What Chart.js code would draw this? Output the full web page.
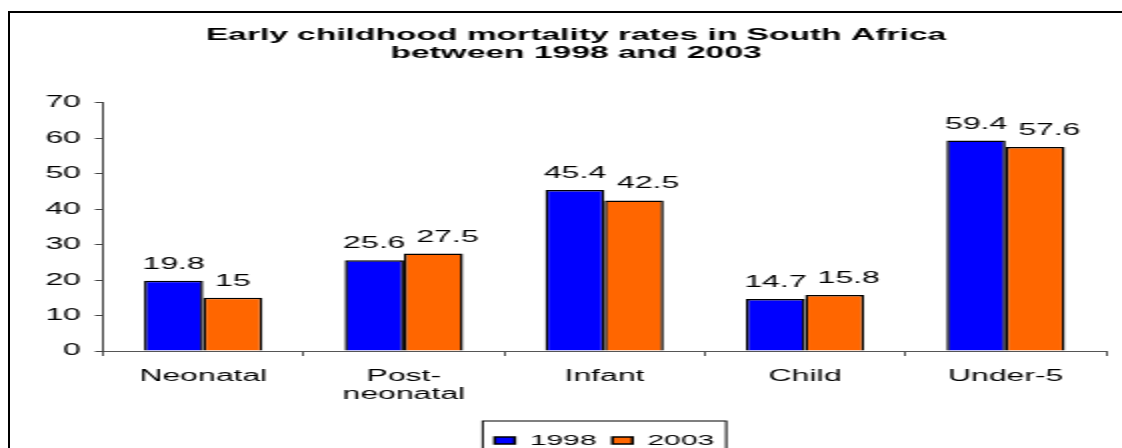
<!DOCTYPE html>
<html>
<head>
<meta charset="utf-8">
<script src="https://cdn.jsdelivr.net/npm/chart.js@4"></script>
<style>
  body { margin: 0; overflow: hidden; background: #fff; width: 1122px; height: 448px; position: relative; }
  #marco { position: absolute; left: 8px; top: 11px; width: 1200px; height: 500px; border-left: 2px solid #000; border-top: 2px solid #000; box-sizing: border-box; }
  #envoltura { position: absolute; left: 8px; top: 11px; transform: scaleX(2); transform-origin: 0 0; }
</style>
</head>
<body>
<div id="marco"></div>
<div id="envoltura">
  <canvas id="grafica" width="568" height="450"></canvas>
</div>
<script>
const categorias = ["Neonatal", ["Post-", "neonatal"], "Infant", "Child", "Under-5"];
const valores1998 = [19.8, 25.6, 45.4, 14.7, 59.4];
const valores2003 = [15, 27.5, 42.5, 15.8, 57.6];
const etiquetasY = [0, 10, 20, 30, 40, 50, 60, 70];

Chart.defaults.font.family = "'Liberation Sans', Arial, sans-serif";
Chart.defaults.color = "#000";

// etiquetas de valor encima de cada barra; la segunda se corre solo si se encima con la primera
const etiquetasBarras = {
  id: "etiquetasBarras",
  afterDatasetsDraw(chart) {
    const ctx = chart.ctx;
    ctx.save();
    ctx.font = "16px 'Liberation Sans', Arial, sans-serif";
    ctx.fillStyle = "#000";
    ctx.textAlign = "center";
    ctx.textBaseline = "alphabetic";
    const barras1 = chart.getDatasetMeta(0).data;
    const barras2 = chart.getDatasetMeta(1).data;
    barras1.forEach((b1, j) => {
      const b2 = barras2[j];
      const t1 = String(chart.data.datasets[0].data[j]);
      const t2 = String(chart.data.datasets[1].data[j]);
      const w1 = ctx.measureText(t1).width;
      const w2 = ctx.measureText(t2).width;
      ctx.fillText(t1, b1.x, b1.y - 12);
      const finPrimera = b1.x + w1 / 2;
      const inicioSegunda = b2.x - w2 / 2;
      let corrimiento = 0;
      if (inicioSegunda < finPrimera) corrimiento = finPrimera + 5.5 - inicioSegunda;
      ctx.fillText(t2, b2.x + corrimiento, b2.y - 12);
    });
    ctx.restore();
  }
};

// recuadro alrededor de la leyenda
const marcoLeyenda = {
  id: "marcoLeyenda",
  afterDraw(chart) {
    const cajas = chart.legend.legendHitBoxes;
    if (!cajas || !cajas.length) return;
    const izq = Math.min(...cajas.map(c => c.left)) - 6;
    const der = Math.max(...cajas.map(c => c.left + c.width)) + 6;
    const arriba = cajas[0].top - 12;
    const abajo = cajas[0].top + cajas[0].height + 6;
    const ctx = chart.ctx;
    ctx.save();
    ctx.strokeStyle = "#000";
    ctx.lineWidth = 1;
    ctx.strokeRect(izq, arriba, der - izq, abajo - arriba);
    ctx.restore();
  }
};

new Chart(document.getElementById("grafica"), {
  type: "bar",
  data: {
    labels: categorias,
    datasets: [
      {
        label: "1998",
        data: valores1998,
        backgroundColor: "#0000FF",
        borderColor: "#000",
        borderWidth: 1.5,
        categoryPercentage: 0.59,
        barPercentage: 1
      },
      {
        label: "2003",
        data: valores2003,
        backgroundColor: "#FF6600",
        borderColor: "#000",
        borderWidth: 1.5,
        categoryPercentage: 0.59,
        barPercentage: 1
      }
    ]
  },
  options: {
    responsive: false,
    animation: false,
    layout: { padding: { top: 0, right: 0, bottom: 3, left: 0 } },
    plugins: {
      title: {
        display: true,
        text: ["Early childhood mortality rates in South Africa", "between 1998 and 2003"],
        color: "#000",
        font: { size: 16.8, weight: "bold", lineHeight: 1.07 },
        padding: { top: 15, bottom: 41 }
      },
      legend: {
        position: "bottom",
        fullSize: false,
        labels: {
          boxWidth: 10,
          boxHeight: 7,
          padding: 8,
          color: "#000",
          font: { size: 15 }
        }
      },
      tooltip: { enabled: false }
    },
    scales: {
      x: {
        grid: { drawOnChartArea: false, tickLength: 5, color: "#555", offset: true },
        border: { color: "#555", width: 1 },
        ticks: { padding: 12, color: "#000", font: { size: 16, lineHeight: 1.125 }, maxRotation: 0 },
        afterFit: (escala) => { escala.height = 74; }
      },
      y: {
        min: 0,
        max: 70,
        afterBuildTicks: (escala) => { escala.ticks = etiquetasY.map(v => ({ value: v })); },
        grid: { drawOnChartArea: false, tickLength: 4, color: "#444" },
        border: { color: "#444", width: 1 },
        ticks: { padding: 7, color: "#000", font: { size: 16 } },
        afterFit: (escala) => { escala.width = 47.5; }
      },
      // margen derecho vacío, para que el título quede centrado en todo el recuadro
      margen: {
        type: "linear",
        position: "right",
        grid: { display: false },
        border: { display: false },
        ticks: { display: false },
        afterFit: (escala) => { escala.width = 19; }
      }
    }
  },
  plugins: [etiquetasBarras, marcoLeyenda]
});
</script>
</body>
</html>
